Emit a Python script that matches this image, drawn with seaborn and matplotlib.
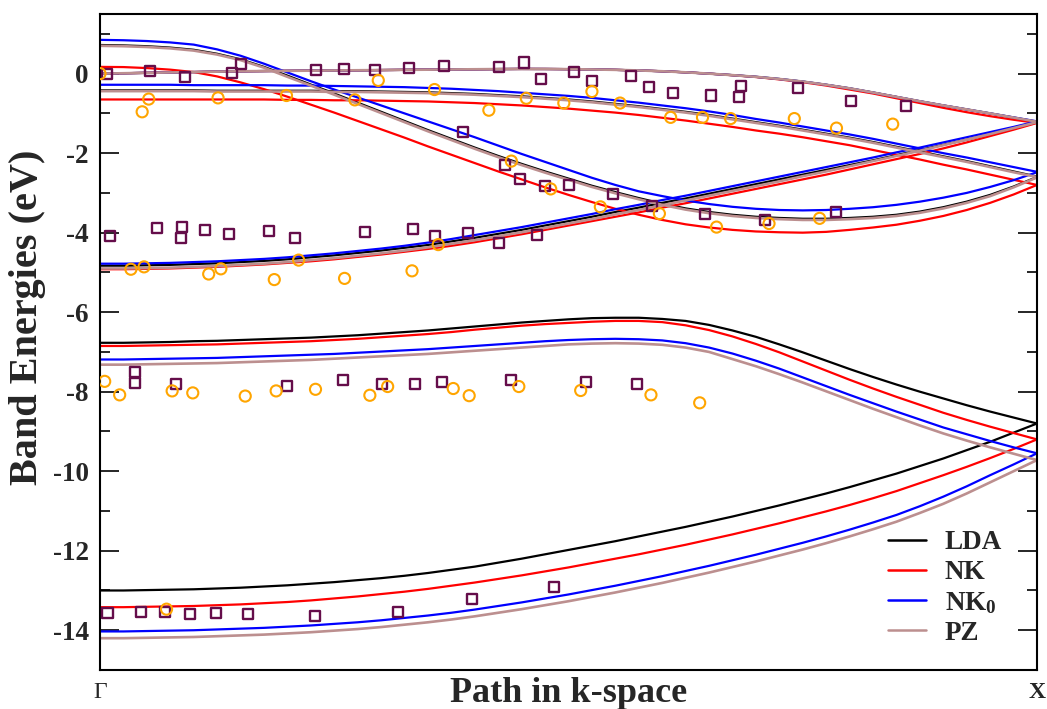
import matplotlib
matplotlib.use("Agg")
import matplotlib.pyplot as plt
from matplotlib.lines import Line2D
from matplotlib.ticker import MultipleLocator, FixedLocator
import numpy as np
import pandas as pd
import seaborn as sns

# k-path sampling from Gamma (0) to X (1)
k_path = [0.000, 0.025, 0.050, 0.075, 0.100, 0.125, 0.150, 0.175, 0.200, 0.225,
          0.250, 0.275, 0.300, 0.325, 0.350, 0.375, 0.400, 0.425, 0.450, 0.475,
          0.500, 0.525, 0.550, 0.575, 0.600, 0.625, 0.650, 0.675, 0.700, 0.725,
          0.750, 0.775, 0.800, 0.825, 0.850, 0.875, 0.900, 0.925, 0.950, 0.975, 1.000]

# ---- LDA bands (eV), bottom to top ----
lda_band1 = [-13.00, -13.00, -12.99, -12.98, -12.97, -12.95, -12.93, -12.90, -12.87, -12.83,
             -12.79, -12.74, -12.69, -12.63, -12.56, -12.48, -12.40, -12.30, -12.20, -12.09,
             -11.98, -11.87, -11.76, -11.64, -11.52, -11.40, -11.27, -11.14, -11.00, -10.86,
             -10.71, -10.56, -10.40, -10.23, -10.06, -9.87, -9.68, -9.47, -9.26, -9.03, -8.80]
lda_band2 = [-6.77, -6.77, -6.76, -6.75, -6.73, -6.72, -6.70, -6.68, -6.66, -6.64,
             -6.61, -6.58, -6.54, -6.50, -6.46, -6.41, -6.36, -6.31, -6.26, -6.22,
             -6.18, -6.15, -6.14, -6.14, -6.17, -6.22, -6.32, -6.46, -6.62, -6.81,
             -7.01, -7.22, -7.43, -7.63, -7.82, -8.00, -8.17, -8.34, -8.50, -8.65, -8.80]
lda_band3 = [-4.83, -4.83, -4.82, -4.81, -4.79, -4.77, -4.74, -4.71, -4.67, -4.62,
             -4.57, -4.51, -4.45, -4.38, -4.31, -4.22, -4.13, -4.03, -3.93, -3.82,
             -3.71, -3.60, -3.48, -3.37, -3.25, -3.14, -3.02, -2.90, -2.78, -2.66,
             -2.54, -2.42, -2.30, -2.18, -2.05, -1.92, -1.79, -1.66, -1.52, -1.37, -1.22]
lda_band4 = [-0.42, -0.42, -0.42, -0.42, -0.42, -0.43, -0.43, -0.43, -0.43, -0.43,
             -0.44, -0.44, -0.45, -0.46, -0.47, -0.49, -0.51, -0.54, -0.57, -0.61,
             -0.65, -0.70, -0.76, -0.82, -0.89, -0.96, -1.04, -1.13, -1.22, -1.31,
             -1.41, -1.51, -1.61, -1.72, -1.84, -1.96, -2.08, -2.20, -2.33, -2.46, -2.59]
lda_band5 = [0.72, 0.71, 0.69, 0.655, 0.60, 0.50, 0.36, 0.17, -0.05, -0.275,
             -0.50, -0.73, -0.96, -1.19, -1.42, -1.64, -1.86, -2.07, -2.27, -2.46,
             -2.64, -2.82, -2.98, -3.13, -3.27, -3.39, -3.48, -3.55, -3.60, -3.63,
             -3.65, -3.65, -3.63, -3.60, -3.55, -3.47, -3.36, -3.22, -3.05, -2.84, -2.60]
lda_band6 = [0.00, 0.01, 0.02, 0.03, 0.04, 0.05, 0.06, 0.065, 0.07, 0.075,
             0.08, 0.085, 0.09, 0.095, 0.10, 0.105, 0.11, 0.115, 0.118, 0.117,
             0.113, 0.105, 0.095, 0.08, 0.06, 0.033, 0.00, -0.038, -0.08, -0.135,
             -0.20, -0.28, -0.37, -0.475, -0.585, -0.695, -0.80, -0.90, -1.00, -1.105, -1.21]

# ---- NK bands (eV) ----
nk_band1 = [-13.42, -13.42, -13.41, -13.40, -13.39, -13.37, -13.35, -13.32, -13.29, -13.25,
            -13.20, -13.15, -13.09, -13.03, -12.96, -12.88, -12.80, -12.71, -12.62, -12.52,
            -12.42, -12.31, -12.20, -12.09, -11.97, -11.85, -11.72, -11.59, -11.45, -11.31,
            -11.16, -11.01, -10.85, -10.68, -10.50, -10.30, -10.10, -9.89, -9.67, -9.44, -9.20]
nk_band2 = [-6.85, -6.85, -6.84, -6.83, -6.82, -6.81, -6.79, -6.77, -6.75, -6.73,
            -6.70, -6.67, -6.63, -6.59, -6.55, -6.50, -6.44, -6.39, -6.34, -6.30,
            -6.27, -6.24, -6.22, -6.22, -6.25, -6.33, -6.45, -6.61, -6.80, -7.01,
            -7.24, -7.47, -7.70, -7.92, -8.13, -8.33, -8.53, -8.71, -8.88, -9.04, -9.20]
nk_band3 = [-4.92, -4.92, -4.91, -4.90, -4.88, -4.86, -4.83, -4.80, -4.76, -4.72,
            -4.67, -4.61, -4.55, -4.48, -4.41, -4.33, -4.24, -4.14, -4.04, -3.93,
            -3.82, -3.71, -3.60, -3.49, -3.37, -3.26, -3.14, -3.02, -2.90, -2.78,
            -2.66, -2.54, -2.41, -2.28, -2.15, -2.02, -1.88, -1.73, -1.57, -1.41, -1.24]
nk_band4 = [-0.65, -0.65, -0.65, -0.65, -0.65, -0.65, -0.65, -0.65, -0.66, -0.66,
            -0.67, -0.67, -0.68, -0.69, -0.70, -0.72, -0.74, -0.77, -0.80, -0.84,
            -0.88, -0.93, -0.98, -1.04, -1.11, -1.18, -1.26, -1.34, -1.43, -1.51,
            -1.60, -1.70, -1.80, -1.92, -2.04, -2.16, -2.29, -2.41, -2.54, -2.67, -2.80]
nk_band5 = [0.17, 0.165, 0.14, 0.10, 0.04, -0.07, -0.22, -0.39, -0.58, -0.78,
            -0.98, -1.19, -1.40, -1.61, -1.83, -2.04, -2.25, -2.46, -2.66, -2.86,
            -3.05, -3.23, -3.40, -3.55, -3.68, -3.79, -3.87, -3.93, -3.97, -3.99,
            -4.00, -3.98, -3.93, -3.87, -3.80, -3.70, -3.58, -3.43, -3.25, -3.04, -2.80]
nk_band6 = [0.00, 0.01, 0.02, 0.03, 0.04, 0.05, 0.06, 0.065, 0.07, 0.075,
            0.08, 0.085, 0.09, 0.095, 0.10, 0.105, 0.11, 0.115, 0.118, 0.117,
            0.113, 0.105, 0.095, 0.08, 0.06, 0.033, 0.00, -0.04, -0.085, -0.145,
            -0.215, -0.30, -0.40, -0.50, -0.62, -0.74, -0.86, -0.97, -1.07, -1.16, -1.24]

# ---- NK0 bands (eV) ----
nk0_band1 = [-14.03, -14.03, -14.02, -14.01, -14.00, -13.98, -13.96, -13.94, -13.91, -13.88,
             -13.84, -13.80, -13.75, -13.69, -13.63, -13.56, -13.48, -13.39, -13.30, -13.20,
             -13.10, -12.99, -12.88, -12.76, -12.64, -12.51, -12.38, -12.24, -12.10, -11.95,
             -11.80, -11.64, -11.47, -11.29, -11.10, -10.88, -10.64, -10.38, -10.10, -9.83, -9.55]
nk0_band2 = [-7.19, -7.19, -7.18, -7.17, -7.16, -7.15, -7.13, -7.11, -7.09, -7.07,
             -7.05, -7.02, -6.99, -6.96, -6.93, -6.89, -6.85, -6.81, -6.77, -6.73,
             -6.70, -6.68, -6.67, -6.68, -6.71, -6.78, -6.89, -7.04, -7.22, -7.42,
             -7.64, -7.86, -8.08, -8.29, -8.50, -8.70, -8.90, -9.07, -9.24, -9.40, -9.55]
nk0_band3 = [-4.78, -4.78, -4.77, -4.76, -4.74, -4.72, -4.69, -4.66, -4.62, -4.57,
             -4.52, -4.46, -4.40, -4.33, -4.25, -4.16, -4.06, -3.96, -3.86, -3.75,
             -3.64, -3.53, -3.41, -3.30, -3.18, -3.07, -2.95, -2.83, -2.71, -2.59,
             -2.47, -2.35, -2.23, -2.11, -1.98, -1.86, -1.73, -1.60, -1.47, -1.34, -1.20]
nk0_band4 = [-0.28, -0.28, -0.28, -0.28, -0.29, -0.29, -0.29, -0.29, -0.30, -0.30,
             -0.31, -0.32, -0.33, -0.34, -0.36, -0.38, -0.41, -0.44, -0.48, -0.52,
             -0.56, -0.61, -0.67, -0.73, -0.80, -0.87, -0.95, -1.04, -1.14, -1.23,
             -1.33, -1.43, -1.53, -1.64, -1.76, -1.88, -2.00, -2.11, -2.23, -2.35, -2.47]
nk0_band5 = [0.85, 0.84, 0.82, 0.785, 0.73, 0.61, 0.45, 0.25, 0.03, -0.19,
             -0.40, -0.60, -0.80, -1.00, -1.20, -1.40, -1.60, -1.81, -2.02, -2.22,
             -2.42, -2.62, -2.80, -2.96, -3.08, -3.19, -3.28, -3.35, -3.40, -3.43,
             -3.44, -3.43, -3.40, -3.36, -3.30, -3.22, -3.12, -3.00, -2.85, -2.68, -2.48]
nk0_band6 = [0.00, 0.01, 0.02, 0.03, 0.04, 0.05, 0.06, 0.065, 0.07, 0.075,
             0.08, 0.085, 0.09, 0.095, 0.10, 0.105, 0.11, 0.115, 0.118, 0.117,
             0.113, 0.105, 0.095, 0.08, 0.06, 0.033, 0.00, -0.038, -0.08, -0.135,
             -0.20, -0.28, -0.37, -0.475, -0.585, -0.695, -0.80, -0.90, -1.00, -1.10, -1.20]

# ---- PZ bands (eV) ----
pz_band1 = [-14.20, -14.20, -14.19, -14.18, -14.17, -14.15, -14.13, -14.11, -14.08, -14.05,
            -14.01, -13.97, -13.92, -13.86, -13.80, -13.73, -13.65, -13.56, -13.47, -13.37,
            -13.27, -13.16, -13.05, -12.93, -12.81, -12.68, -12.55, -12.41, -12.27, -12.12,
            -11.97, -11.81, -11.64, -11.46, -11.27, -11.05, -10.82, -10.56, -10.28, -10.00, -9.72]
pz_band2 = [-7.32, -7.32, -7.31, -7.30, -7.29, -7.28, -7.26, -7.24, -7.22, -7.20,
            -7.17, -7.14, -7.11, -7.08, -7.05, -7.01, -6.97, -6.93, -6.89, -6.85,
            -6.81, -6.79, -6.78, -6.79, -6.82, -6.89, -7.00, -7.18, -7.36, -7.56,
            -7.77, -7.99, -8.21, -8.43, -8.64, -8.85, -9.05, -9.23, -9.40, -9.56, -9.72]
pz_band3 = [-4.90, -4.90, -4.89, -4.88, -4.86, -4.84, -4.81, -4.78, -4.74, -4.69,
            -4.64, -4.58, -4.52, -4.45, -4.37, -4.28, -4.19, -4.09, -3.99, -3.88,
            -3.77, -3.66, -3.54, -3.43, -3.31, -3.19, -3.07, -2.95, -2.83, -2.71,
            -2.58, -2.46, -2.33, -2.20, -2.07, -1.94, -1.80, -1.66, -1.52, -1.37, -1.22]
pz_band4 = [-0.44, -0.44, -0.44, -0.44, -0.44, -0.45, -0.45, -0.45, -0.45, -0.45,
            -0.46, -0.46, -0.47, -0.48, -0.49, -0.51, -0.53, -0.56, -0.59, -0.63,
            -0.67, -0.72, -0.78, -0.84, -0.91, -0.98, -1.06, -1.15, -1.24, -1.33,
            -1.43, -1.53, -1.63, -1.74, -1.86, -1.98, -2.10, -2.22, -2.35, -2.48, -2.60]
pz_band5 = [0.70, 0.69, 0.67, 0.635, 0.58, 0.48, 0.34, 0.15, -0.08, -0.30,
            -0.53, -0.76, -0.99, -1.22, -1.45, -1.67, -1.89, -2.10, -2.30, -2.49,
            -2.67, -2.85, -3.01, -3.16, -3.30, -3.42, -3.51, -3.58, -3.63, -3.66,
            -3.68, -3.68, -3.66, -3.63, -3.58, -3.50, -3.39, -3.25, -3.08, -2.86, -2.61]
pz_band6 = [0.00, 0.01, 0.02, 0.03, 0.04, 0.05, 0.06, 0.065, 0.07, 0.075,
            0.08, 0.085, 0.09, 0.095, 0.10, 0.105, 0.11, 0.115, 0.118, 0.117,
            0.113, 0.105, 0.095, 0.08, 0.06, 0.033, 0.00, -0.038, -0.08, -0.135,
            -0.20, -0.28, -0.37, -0.475, -0.585, -0.695, -0.80, -0.90, -1.00, -1.105, -1.21]

# ---- Experimental data: squares ----
exp_sq_k = [0.007, 0.053, 0.091, 0.141, 0.150, 0.230, 0.260, 0.293, 0.330, 0.367, 0.426, 0.452,
            0.471, 0.506, 0.525, 0.567, 0.586, 0.612, 0.652, 0.684, 0.682, 0.745, 0.802, 0.860,
            0.387, 0.432, 0.448, 0.475, 0.501, 0.547, 0.589, 0.646, 0.710, 0.786,
            0.011, 0.061, 0.088, 0.086, 0.112, 0.138, 0.180, 0.208, 0.283, 0.334, 0.358, 0.393,
            0.426, 0.466,
            0.037, 0.037, 0.081, 0.200, 0.259, 0.301, 0.336, 0.365, 0.439, 0.519, 0.573,
            0.008, 0.044, 0.069, 0.096, 0.124, 0.158, 0.229, 0.318, 0.397, 0.484]
exp_sq_e = [-0.02, 0.06, -0.09, 0.02, 0.23, 0.10, 0.11, 0.08, 0.13, 0.18, 0.17, 0.28,
            -0.13, 0.03, -0.19, -0.05, -0.34, -0.48, -0.55, -0.32, -0.60, -0.36, -0.68, -0.82,
            -1.47, -2.29, -2.66, -2.83, -2.81, -3.03, -3.32, -3.54, -3.67, -3.49,
            -4.08, -3.89, -3.86, -4.13, -3.94, -4.04, -3.96, -4.14, -3.99, -3.90, -4.08, -4.02,
            -4.26, -4.05,
            -7.51, -7.79, -7.80, -7.85, -7.71, -7.81, -7.80, -7.75, -7.71, -7.76, -7.81,
            -13.57, -13.55, -13.55, -13.59, -13.57, -13.59, -13.65, -13.53, -13.21, -12.90]

# ---- Experimental data: circles ----
exp_ci_k = [0.000, 0.052, 0.045, 0.126, 0.199, 0.272, 0.297, 0.357, 0.415, 0.455, 0.495, 0.525,
            0.555, 0.609, 0.643, 0.673, 0.741, 0.786, 0.846,
            0.439, 0.481, 0.534, 0.597, 0.658, 0.714, 0.768,
            0.033, 0.047, 0.116, 0.129, 0.186, 0.212, 0.261, 0.333, 0.361,
            0.005, 0.021, 0.077, 0.099, 0.155, 0.188, 0.230, 0.288, 0.307, 0.377, 0.394,
            0.447, 0.513, 0.588, 0.640,
            0.071]
exp_ci_e = [0.00, -0.64, -0.96, -0.61, -0.55, -0.66, -0.17, -0.40, -0.92, -0.62, -0.74, -0.45,
            -0.74, -1.10, -1.10, -1.13, -1.13, -1.37, -1.27,
            -2.20, -2.90, -3.35, -3.52, -3.86, -3.77, -3.64,
            -4.92, -4.86, -5.04, -4.91, -5.18, -4.69, -5.15, -4.96, -4.30,
            -7.74, -8.08, -7.98, -8.03, -8.11, -7.98, -7.94, -8.09, -7.87, -7.92, -8.10,
            -7.87, -7.97, -8.08, -8.28,
            -13.47]

functionals = ["LDA", "NK", "NK0", "PZ"]
func_labels = ["LDA", "NK", r"NK$_{\mathbf{0}}$", "PZ"]
func_colors = ["#000000", "#ff0000", "#0000ff", "#bc8f8f"]
func_bands = [
    [lda_band1, lda_band2, lda_band3, lda_band4, lda_band5, lda_band6],
    [nk_band1, nk_band2, nk_band3, nk_band4, nk_band5, nk_band6],
    [nk0_band1, nk0_band2, nk0_band3, nk0_band4, nk0_band5, nk0_band6],
    [pz_band1, pz_band2, pz_band3, pz_band4, pz_band5, pz_band6],
]
func_widths = [1.6, 1.6, 1.6, 1.9]

sns.set_style("ticks")
plt.rcParams["font.family"] = ["Liberation Serif", "DejaVu Serif"]
plt.rcParams["font.weight"] = "bold"
plt.rcParams["mathtext.fontset"] = "custom"
plt.rcParams["mathtext.rm"] = "Liberation Serif:bold"
plt.rcParams["mathtext.bf"] = "Liberation Serif:bold"
plt.rcParams["mathtext.it"] = "Liberation Serif:bold:italic"

fig = plt.figure(figsize=(10.47, 7.09), dpi=100)
ax = fig.add_axes([100 / 1047, 39 / 709, 937 / 1047, 656 / 709])

for name, bands, color, lw in zip(functionals, func_bands, func_colors, func_widths):
    frame = pd.DataFrame({
        "k": np.tile(k_path, len(bands)),
        "energy": np.concatenate(bands),
        "band": np.repeat(np.arange(len(bands)), len(k_path)),
    })
    sns.lineplot(data=frame, x="k", y="energy", units="band", estimator=None,
                 sort=False, color=color, linewidth=lw, ax=ax, legend=False)

sns.scatterplot(x=exp_sq_k, y=exp_sq_e, marker="s", s=52, facecolors="none",
                edgecolor="#650d4a", linewidth=1.7, ax=ax, zorder=5, legend=False)
sns.scatterplot(x=exp_ci_k, y=exp_ci_e, marker="o", s=64, facecolors="none",
                edgecolor="#ffa500", linewidth=1.5, ax=ax, zorder=5, legend=False)

ax.set_xlim(0, 1)
ax.set_ylim(-15, 1.5)

# y ticks: labelled every 2 eV, minor every 1 eV, pointing inward on both sides
major_y = [0, -2, -4, -6, -8, -10, -12, -14]
ax.yaxis.set_major_locator(FixedLocator(major_y))
ax.set_yticklabels([str(v) for v in major_y])
ax.yaxis.set_minor_locator(MultipleLocator(1))
ax.tick_params(axis="y", which="major", direction="in", length=13.5, width=1.4,
               left=True, right=True, labelsize=19.5, pad=8)
ax.tick_params(axis="y", which="minor", direction="in", length=7, width=1.4,
               left=True, right=True)

ax.set_xticks([0, 1])
ax.set_xticklabels(["Γ", "X"])
ax.tick_params(axis="x", which="both", length=0, labelsize=17, pad=9)
ax.get_xticklabels()[0].set_fontweight("normal")

for side in ["left", "right", "top", "bottom"]:
    ax.spines[side].set_linewidth(1.5)
    ax.spines[side].set_color("black")

ax.set_xlabel("Path in k-space", fontsize=26, fontweight="bold")
ax.set_ylabel("Band Energies (eV)", fontsize=29, fontweight="bold")
ax.xaxis.set_label_coords(0.5, -0.01)
ax.yaxis.set_label_coords(-0.058, 0.538)

handles = [Line2D([], [], color=c, linewidth=1.8) for c in func_colors]
ax.legend(handles, func_labels, loc="lower right", bbox_to_anchor=(0.963, 0.037),
          frameon=False, handlelength=1.4, handletextpad=0.7,
          labelspacing=0.18, borderpad=0, borderaxespad=0,
          prop={"weight": "bold", "size": 19.5})

fig.savefig("out.png", dpi=100)
